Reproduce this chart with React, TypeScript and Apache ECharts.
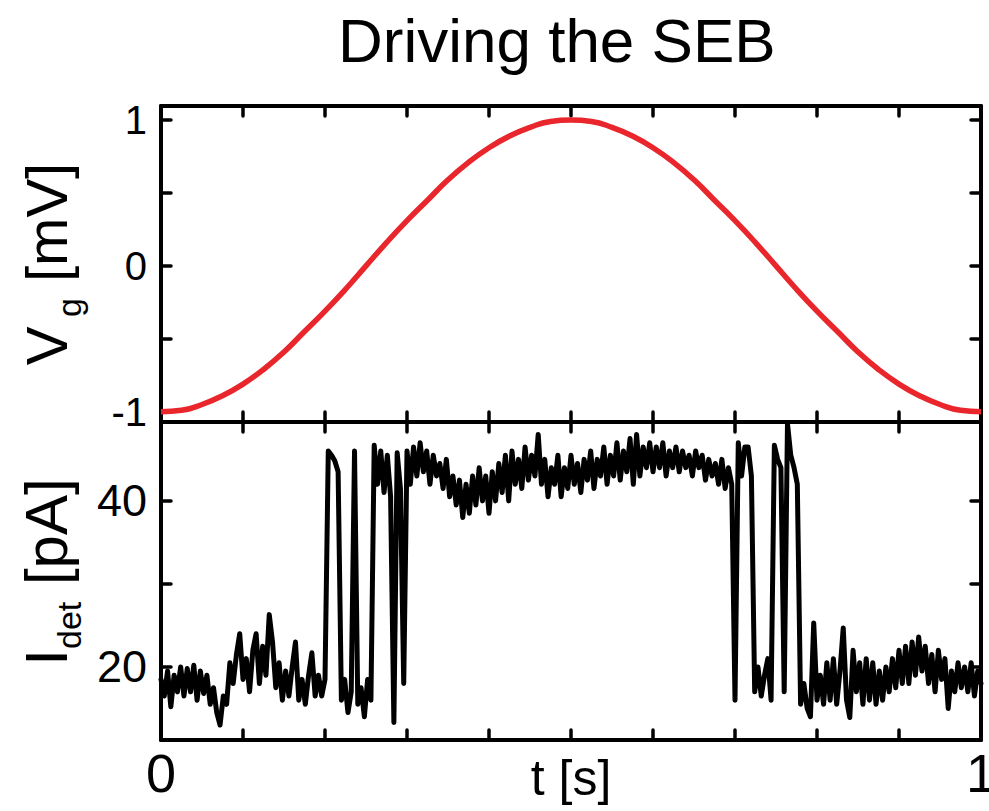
import React, { useEffect, useRef } from "react";
import * as echarts from "echarts";

// Top panel: gate voltage Vg [mV] vs t [s]
const vgTime = [
  0, 0.025, 0.05, 0.075, 0.1, 0.125, 0.15, 0.175, 0.2, 0.225, 0.25, 0.275, 0.3, 0.325, 0.35, 0.375, 0.4, 0.425, 0.45, 0.475,
  0.5, 0.525, 0.55, 0.575, 0.6, 0.625, 0.65, 0.675, 0.7, 0.725, 0.75, 0.775, 0.8, 0.825, 0.85, 0.875, 0.9, 0.925, 0.95, 0.975, 1,
];
const vgValues = [
  -1, -0.99, -0.95, -0.89, -0.81, -0.71, -0.59, -0.45, -0.31, -0.16, 0, 0.16, 0.31, 0.45, 0.59, 0.71, 0.81, 0.89, 0.95, 0.99,
  1, 0.99, 0.95, 0.89, 0.81, 0.71, 0.59, 0.45, 0.31, 0.16, 0, -0.16, -0.31, -0.45, -0.59, -0.71, -0.81, -0.89, -0.95, -0.99, -1,
];

// Bottom panel: detector current Idet [pA], sampled every 0.004 s from t = 0 to 1
const detStep = 0.004;
const detCurrent = [
  18.5, 16.5, 19.5, 15.2, 19, 17, 20, 16.5, 19.8, 17,
  20.2, 16, 19.5, 16.8, 19, 15.5, 17.5, 14.5, 13, 16.5,
  15.5, 20.5, 18, 21.5, 24, 18.5, 21, 17, 22, 24,
  18, 22.5, 19, 26.3, 23, 17.5, 20.5, 16, 19.5, 16.5,
  20, 23, 16, 18.5, 15.5, 19, 21.7, 16.5, 19, 16.5,
  18.5, 46, 45.5, 44.8, 43.5, 16, 18.5, 14.5, 17, 46,
  15.5, 17.5, 14, 18.5, 16, 46.7, 42, 46, 41, 45.5,
  40.5, 13.3, 45.8, 41.5, 18, 46, 42, 46.5, 43, 47,
  43.5, 46, 42, 45.5, 43, 44.5, 41.5, 45, 40.5, 43,
  39.5, 42.5, 38, 42, 38.5, 43, 39.5, 44, 40, 43,
  38.5, 43.5, 40, 44.5, 41, 45.5, 40, 46, 42, 45,
  41.5, 46.5, 42.5, 45.5, 43, 48, 42, 45, 40.5, 44,
  42, 45.5, 40.5, 44, 41.5, 45.5, 42, 44.5, 41, 45,
  42.5, 46, 41.5, 45, 43, 46.5, 42, 45.5, 43, 47,
  42.5, 46, 43.5, 47.5, 42, 48, 43, 46.5, 44, 47,
  43.5, 46.5, 44, 47, 43, 46, 44, 46.5, 43.5, 46,
  44, 45.5, 43, 46, 44, 45.5, 42.5, 45, 43, 44.5,
  42, 45, 41.5, 44, 42, 16, 47, 43, 46.5, 46.5,
  43, 17, 20, 16.5, 19, 21, 16, 46.7, 45, 44,
  17, 49.3, 45.5, 44, 42, 15.5, 18, 15, 14, 25.3,
  16, 19, 15.5, 20.5, 16, 21, 15.5, 19.5, 24.7, 16,
  13.9, 22, 17, 20.5, 15.5, 21, 16, 20.5, 15.5, 19.5,
  16, 20, 17, 21, 17.5, 22, 18, 22.5, 18, 23,
  19, 23.6, 19.5, 22.5, 18, 21.5, 17, 22, 18.5, 21,
  15, 19.5, 17, 20.5, 17.5, 20, 17, 20.5, 16.5, 19.5,
  18
];

// Axis ticks / labels
const xTickInterval = 0.1;
const xLabelValues = [0, 1];
const vgTicks = [-1, -0.5, 0, 0.5, 1];
const vgLabels = [-1, 0, 1];
const detTicks = [20, 30, 40];
const detLabels = [20, 40];

const FONT = "Liberation Sans, Arial, sans-serif";

export default function App() {
  const ref = useRef<HTMLDivElement>(null);
  useEffect(() => {
    if (!ref.current) return;
    const chart = echarts.init(ref.current, undefined, { renderer: "svg" });
    const axisLine = { show: true, onZero: false, lineStyle: { color: "#000", width: 4 } };
    const tick = (custom?: number[]) => ({
      show: true,
      inside: true,
      length: 10,
      lineStyle: { color: "#000", width: 3.5, cap: "round" },
      ...(custom ? { customValues: custom } : {}),
    });
    const xBase = (gridIndex: number, position: string) => ({
      type: "value",
      gridIndex,
      position,
      min: 0,
      max: 1,
      interval: xTickInterval,
      axisLine,
      axisTick: tick(),
      axisLabel: { show: false },
      splitLine: { show: false },
    });
    const vgY = (position: string) => ({
      type: "value",
      gridIndex: 0,
      position,
      min: -1.07,
      max: 1.096,
      axisLine,
      axisTick: tick(vgTicks),
      axisLabel: { show: false },
      splitLine: { show: false },
    });
    const detY = (position: string) => ({
      type: "value",
      gridIndex: 1,
      position,
      min: 11.2,
      max: 49.5,
      axisLine,
      axisTick: tick(detTicks),
      axisLabel: { show: false },
      splitLine: { show: false },
    });
    const detData = detCurrent.map((v, i) => [i * detStep, v]);
    const vgData = vgTime.map((t, i) => [t, vgValues[i]]);

    chart.setOption({
      animation: false,
      backgroundColor: "#fff",
      title: {
        text: "Driving the SEB",
        left: 333,
        top: 4,
        textStyle: { fontFamily: FONT, fontSize: 62, fontWeight: "normal", color: "#000" },
      },
      grid: [
        { left: 161, right: 8, top: 106, height: 316, outerBoundsMode: "none", containLabel: false },
        { left: 161, right: 8, top: 422, height: 318, outerBoundsMode: "none", containLabel: false },
      ],
      xAxis: [
        xBase(0, "bottom"),
        xBase(0, "top"),
        {
          ...xBase(1, "bottom"),
          axisLabel: {
            show: true,
            customValues: xLabelValues,
            margin: 6,
            fontFamily: FONT,
            fontSize: 54,
            color: "#000",
            formatter: (v: number) => String(v),
          },
          name: "t [s]",
          nameLocation: "middle",
          nameGap: 12,
          nameMoveOverlap: false,
          nameTextStyle: { fontFamily: FONT, fontSize: 50, color: "#000", verticalAlign: "top", lineHeight: 52 },
        },
        xBase(1, "top"),
      ],
      yAxis: [
        {
          ...vgY("left"),
          axisLabel: {
            show: true,
            customValues: vgLabels,
            margin: 14,
            fontFamily: FONT,
            fontSize: 40,
            color: "#000",
            formatter: (v: number) => String(v),
          },
          name: "{m|V}{s| g}{m| [mV]}",
          nameLocation: "middle",
          nameRotate: 90,
          nameGap: 75,
          nameMoveOverlap: false,
          nameTextStyle: {
            rich: {
              m: { fontFamily: FONT, fontSize: 58, color: "#000", lineHeight: 80 },
              s: { fontFamily: FONT, fontSize: 34, color: "#000", lineHeight: 12, verticalAlign: "bottom" },
            },
          },
        },
        vgY("right"),
        {
          ...detY("left"),
          axisLabel: {
            show: true,
            customValues: detLabels,
            margin: 14,
            fontFamily: FONT,
            fontSize: 45,
            color: "#000",
            formatter: (v: number) => String(v),
          },
          name: "{m|I}{s|det}{m| [pA]}",
          nameLocation: "middle",
          nameRotate: 90,
          nameGap: 75,
          nameMoveOverlap: false,
          nameTextStyle: {
            padding: [0, 0, 0, 18],
            rich: {
              m: { fontFamily: FONT, fontSize: 60, color: "#000", lineHeight: 80 },
              s: { fontFamily: FONT, fontSize: 34, color: "#000", lineHeight: 2, verticalAlign: "bottom" },
            },
          },
        },
        detY("right"),
      ],
      series: [
        {
          type: "line",
          xAxisIndex: 0,
          yAxisIndex: 0,
          data: vgData,
          smooth: true,
          showSymbol: false,
          lineStyle: { color: "#e8262b", width: 5.5 },
          z: 5,
        },
        {
          type: "line",
          xAxisIndex: 2,
          yAxisIndex: 2,
          data: detData,
          showSymbol: false,
          lineStyle: { color: "#000", width: 5, join: "round", cap: "round" },
          z: 5,
        },
      ],
    });
    return () => chart.dispose();
  }, []);
  return <div ref={ref} style={{ position: "fixed", left: 0, top: 0, width: 989, height: 811 }} />;
}
